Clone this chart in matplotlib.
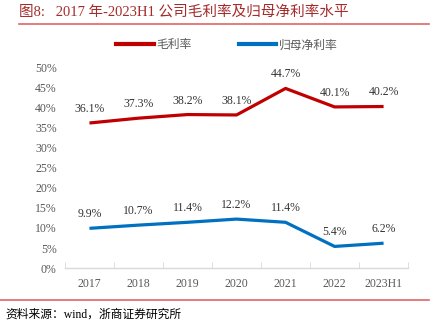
import matplotlib
matplotlib.use("Agg")
import matplotlib.pyplot as plt
from matplotlib.lines import Line2D

plt.rcParams['font.family'] = ['Liberation Serif', 'Noto Sans CJK SC']

categories = ["2017", "2018", "2019", "2020", "2021", "2022", "2023H1"]
gross_margin = [36.1, 37.3, 38.2, 38.1, 44.7, 40.1, 40.2]
net_margin = [9.9, 10.7, 11.4, 12.2, 11.4, 5.4, 6.2]
series_names = ["毛利率", "归母净利率"]
yticks = [0, 5, 10, 15, 20, 25, 30, 35, 40, 45, 50]

red = "#C00000"
blue = "#0070C0"
gray = "#595959"

fig = plt.figure(figsize=(4.36, 3.29), dpi=100)
ax = fig.add_axes([0.149, 0.185, 0.787, 0.611])

x = list(range(len(categories)))
ax.plot(x, gross_margin, color=red, lw=2.3, solid_capstyle='butt')
ax.plot(x, net_margin, color=blue, lw=2.3, solid_capstyle='butt')

for xi, v in zip(x, gross_margin):
    ax.text(xi, v + 2.0, f"{v:.1f}%", ha='center', va='bottom', fontsize=8.5, color='#333333')
for xi, v in zip(x, net_margin):
    ax.text(xi, v + 2.0, f"{v:.1f}%", ha='center', va='bottom', fontsize=8.5, color='#333333')

ax.set_xlim(-0.5, len(categories) - 0.5)
ax.set_ylim(0, 50)
ax.set_yticks(yticks)
ax.set_yticklabels([f"{t}%" for t in yticks], fontsize=8.5, color=gray)
ax.set_xticks(x)
ax.set_xticklabels(categories, fontsize=8.5, color=gray)
ax.set_xticks([i - 0.5 for i in range(len(categories) + 1)], minor=True)
ax.tick_params(axis='x', which='major', length=0, pad=7)
ax.tick_params(axis='x', which='minor', length=4, color='#D9D9D9', direction='in')
ax.tick_params(axis='y', length=0, pad=6)
for s in ['top', 'right', 'left']:
    ax.spines[s].set_visible(False)
ax.spines['bottom'].set_color('#D9D9D9')
ax.spines['bottom'].set_linewidth(1)

handles = [Line2D([0], [0], color=red, lw=3), Line2D([0], [0], color=blue, lw=3)]
fig.legend(handles, series_names, loc='center', bbox_to_anchor=(0.52, 0.862), ncol=2,
           frameon=False, fontsize=8.5, handlelength=3.2, columnspacing=4.0,
           handletextpad=0.2, labelcolor=gray)

fig.text(0.044, 0.963, "图8:   2017 年-2023H1 公司毛利率及归母净利率水平", fontsize=10.5,
         color='#A52A2A', ha='left', va='center')
fig.add_artist(Line2D([0.044, 0.985], [0.927, 0.927], color='#E06666', lw=1.2,
                      transform=fig.transFigure))
fig.add_artist(Line2D([0.0, 0.985], [0.087, 0.087], color='#E06666', lw=1.2,
                      transform=fig.transFigure))
fig.text(0.012, 0.045, "资料来源：wind，浙商证券研究所", fontsize=8.5, color='#000000',
         ha='left', va='center')

fig.savefig("out.png", dpi=100)
